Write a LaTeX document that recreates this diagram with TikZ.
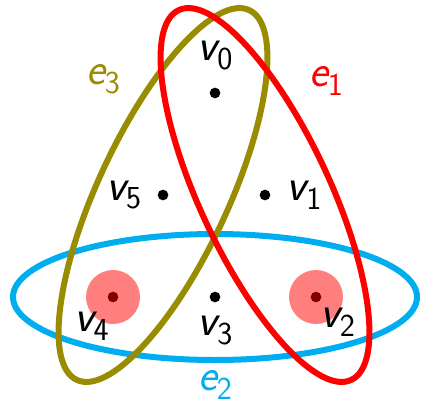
\documentclass[tikz,border=0pt]{standalone}
\usetikzlibrary{positioning}
\definecolor{hred}{RGB}{255,0,0}
\definecolor{holive}{RGB}{153,140,0}
\definecolor{hblue}{RGB}{0,174,239}
\newcommand{\vlab}[1]{{\sffamily\slshape v}\raisebox{-0.45ex}{\sffamily\fontsize{24}{25}\selectfont #1}}
\newcommand{\elab}[1]{{\sffamily\slshape e}\raisebox{-0.45ex}{\sffamily\fontsize{24}{25}\selectfont #1}}

\begin{document}
\begin{tikzpicture}[
    x=0.75pt, y=0.75pt,
    dot/.style={circle, fill=black, inner sep=0pt, minimum size=8pt},
    edge/.style={line width=4.5pt},
    label/.style={font=\fontsize{34}{36}\selectfont, inner sep=0pt},
    marked/.style={fill=hred, opacity=0.5}
]
\useasboundingbox (0,0) rectangle (421,405);

% hyperedges
\draw[edge, hblue] (215,108) ellipse [x radius=202, y radius=63];
\draw[edge, holive, rotate around={65:(163,210)}] (163,210) ellipse [x radius=204, y radius=65];
\draw[edge, hred, rotate around={-65:(265,210)}] (265,210) ellipse [x radius=204, y radius=65];

% vertices
\node[dot] (v0) at (215,312) {};
\node[dot] (v5) at (163,210) {};
\node[dot] (v1) at (265,210) {};
\node[dot] (v4) at (113,108) {};
\node[dot] (v3) at (215,108) {};
\node[dot] (v2) at (316,108) {};

% marked vertices
\fill[marked] (v4) circle [radius=27];
\fill[marked] (v2) circle [radius=27];

% vertex labels
\node[label, above=13pt of v0] (l0) {\vlab{0}};
\node[label, left=12pt of v5] (l5) {\vlab{5}};
\node[label, right=12pt of v1] (l1) {\vlab{1}};
\node[label, below left=8pt and 0pt of v4] (l4) {\vlab{4}};
\node[label, below=10pt of v3] (l3) {\vlab{3}};
\node[label, below right=5pt and 0pt of v2] (l2) {\vlab{2}};

% edge labels
\node[label, hred] (le1) at (326,324) {\elab{1}};
\node[label, hblue] (le2) at (215,20) {\elab{2}};
\node[label, holive] (le3) at (103,326) {\elab{3}};

\end{tikzpicture}
\end{document}
